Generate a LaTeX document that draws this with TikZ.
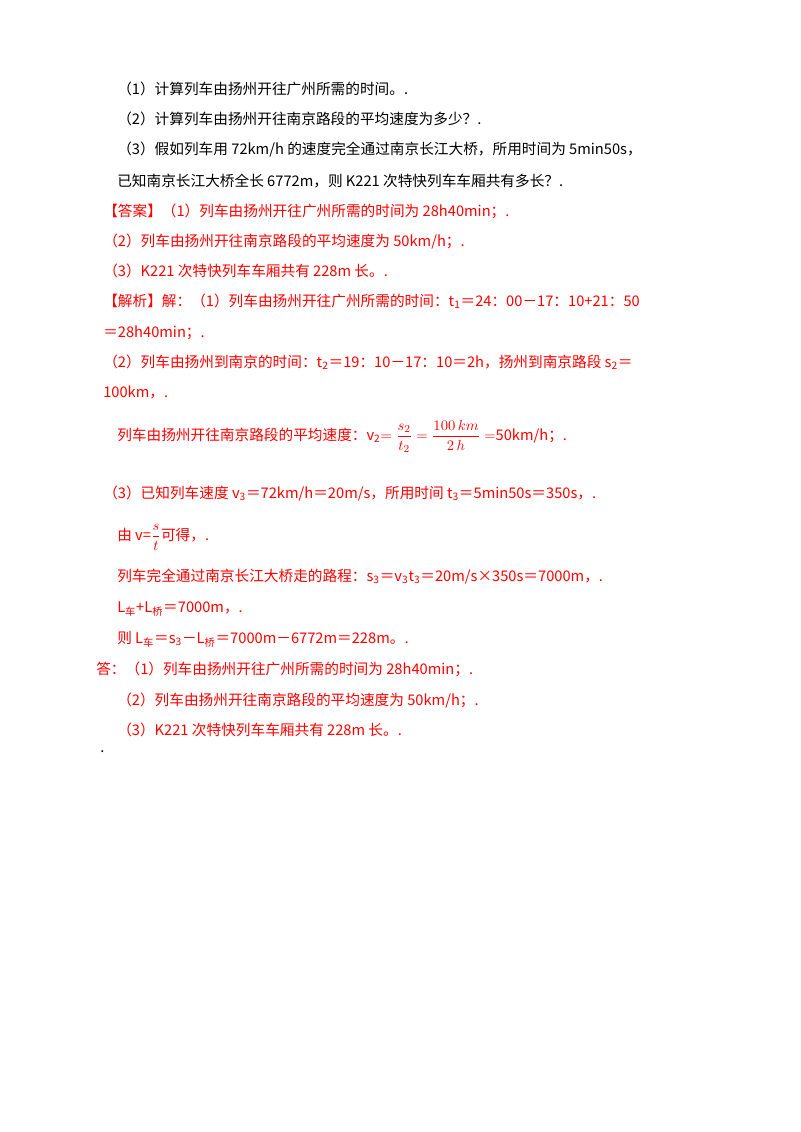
\documentclass[tikz,border=0pt]{standalone}
\usepackage{amsmath}
\usepackage{fontspec}
\setmainfont{Noto Sans CJK SC}
\newfontfamily\cjk{Noto Sans CJK SC}
\usetikzlibrary{positioning}
\tikzset{
    txt/.style={
           anchor=base west,
           inner sep=0pt,
           font=\cjk\fontsize{11pt}{13pt}\selectfont,
           },
    ans/.style={txt, text=red},
}
\newcommand{\sub}[1]{\textsubscript{#1}}
\begin{document}
\begin{tikzpicture}[x=0.75pt,y=-0.75pt]
        \useasboundingbox (0,0) rectangle (800,1132);
        % question
        \node[txt] (Q1) at (117,94) {（1）计算列车由扬州开往广州所需的时间。.};
        \node[txt] (Q2) at (117,124) {（2）计算列车由扬州开往南京路段的平均速度为多少？.};
        \node[txt] (Q3) at (117,154) {（3）假如列车用 72km/h 的速度完全通过南京长江大桥，所用时间为 5min50s，};
        \node[txt] (Q4) at (117,186) {已知南京长江大桥全长 6772m，则 K221 次特快列车车厢共有多长？.};
        % answer
        \node[ans] (A1) at (103,216) {【答案】（1）列车由扬州开往广州所需的时间为 28h40min；.};
        \node[ans] (A2) at (103,246) {（2）列车由扬州开往南京路段的平均速度为 50km/h；.};
        \node[ans] (A3) at (103,276) {（3）K221 次特快列车车厢共有 228m 长。.};
        % analysis
        \node[ans] (S1) at (103,306) {【解析】解：（1）列车由扬州开往广州所需的时间：t\sub{1}＝24：00－17：10+21：50};
        \node[ans] (S2) at (103,337) {＝28h40min；.};
        \node[ans] (S3) at (103,367) {（2）列车由扬州到南京的时间：t\sub{2}＝19：10－17：10＝2h，扬州到南京路段 s\sub{2}＝};
        \node[ans] (S4) at (103,397) {100km，.};
        \node[ans] (S5) at (117,440) {列车由扬州开往南京路段的平均速度：v\sub{2}$=\dfrac{s_2}{t_2}=\dfrac{100\,km}{2\,h}=$50km/h；.};
        \node[ans] (S6) at (103,498) {（3）已知列车速度 v\sub{3}＝72km/h＝20m/s，所用时间 t\sub{3}＝5min50s＝350s，.};
        \node[ans] (S7) at (117,540) {由 v=$\dfrac{s}{t}$可得，.};
        \node[ans] (S8) at (117,581) {列车完全通过南京长江大桥走的路程：s\sub{3}＝v\sub{3}t\sub{3}＝20m/s×350s＝7000m，.};
        \node[ans] (S9) at (117,612) {L\sub{车}+L\sub{桥}＝7000m，.};
        \node[ans] (S10) at (117,643) {则 L\sub{车}＝s\sub{3}－L\sub{桥}＝7000m－6772m＝228m。.};
        % reply
        \node[ans] (R1) at (96,674) {答：（1）列车由扬州开往广州所需的时间为 28h40min；.};
        \node[ans] (R2) at (117,705) {（2）列车由扬州开往南京路段的平均速度为 50km/h；.};
        \node[ans] (R3) at (117,735) {（3）K221 次特快列车车厢共有 228m 长。.};
        \node[txt] (END) at (100,752) {.};
\end{tikzpicture}
\end{document}
